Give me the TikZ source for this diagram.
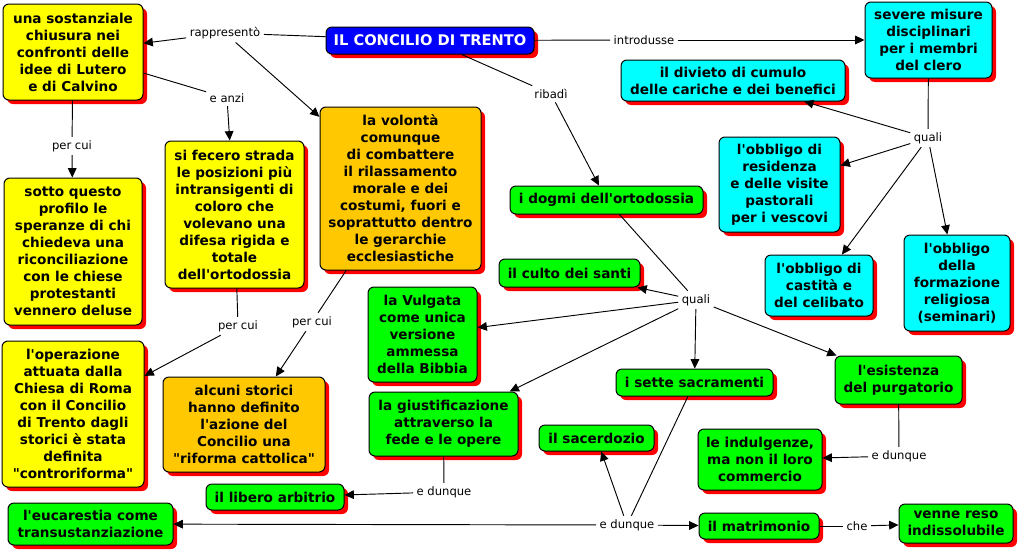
\documentclass[tikz,border=0pt]{standalone}
\usepackage{fontspec}
\setmainfont{DejaVu Sans}[Ligatures=TeXOff]
\usepackage{tikz}
\usetikzlibrary{arrows.meta,shadows}
\usepackage{xcolor}
\definecolor{cgiallo}{HTML}{FFFF00}
\definecolor{carancio}{HTML}{FFC800}
\definecolor{cciano}{HTML}{00FFFF}
\definecolor{cverde}{HTML}{00FF00}
\definecolor{cblu}{HTML}{0000FF}
\definecolor{combra}{HTML}{FF0000}

\begin{document}
\begin{tikzpicture}[
  x=0.75pt, y=-0.75pt,
  every node/.style={font=\fontsize{10.2}{12.75}\selectfont\bfseries},
  concetto/.style={draw=black, line width=0.75pt, rounded corners=4.5pt, align=center,
    inner sep=1pt, general shadow={fill=combra, shadow xshift=3pt, shadow yshift=-3pt}},
  sz/.style 2 args={minimum width=#1*0.75pt, minimum height=#2*0.75pt},
  giallo/.style={concetto, fill=cgiallo},
  arancio/.style={concetto, fill=carancio},
  ciano/.style={concetto, fill=cciano},
  verde/.style={concetto, fill=cverde},
  frase/.style={font=\fontsize{8.7}{10}\selectfont, inner sep=2.5pt},
  linea/.style={line width=0.7pt},
  freccia/.style={linea, -{Triangle[length=7pt, width=6.5pt]}}
]
  \useasboundingbox (0,0) rectangle (1019,553);

  % Concetto principale
  \node[concetto, fill=cblu, text=white, font=\fontsize{11}{13}\selectfont\bfseries, sz={208}{27}]
    (titolo) at (430,40.5) {IL CONCILIO DI TRENTO};

  % Ramo sinistro
  \node[giallo, sz={140}{96}] (chiusura) at (73,52)
    {una sostanziale\\chiusura nei\\confronti delle\\idee di Lutero\\e di Calvino};
  \node[giallo, sz={138}{147}] (sotto) at (73,251.5)
    {sotto questo\\profilo le\\speranze di chi\\chiedeva una\\riconciliazione\\con le chiese\\protestanti\\vennero deluse};
  \node[giallo, sz={139}{147}] (fecero) at (234.5,214.5)
    {si fecero strada\\le posizioni più\\intransigenti di\\coloro che\\volevano una\\difesa rigida e\\totale\\dell'ortodossia};
  \node[arancio, sz={161}{163}] (volonta) at (400.5,188.5)
    {la volontà\\comunque\\di combattere\\il rilassamento\\morale e dei\\costumi, fuori e\\soprattutto dentro\\le gerarchie\\ecclesiastiche};
  \node[giallo, sz={142}{146}] (operazione) at (73,414)
    {l'operazione\\attuata dalla\\Chiesa di Roma\\con il Concilio\\di Trento dagli\\storici è stata\\definita\\"controriforma"};
  \node[arancio, sz={162}{95}] (alcuni) at (244,424.5)
    {alcuni storici\\hanno definito\\l'azione del\\Concilio una\\"riforma cattolica"};

  % Ramo disciplinare
  \node[ciano, sz={127}{76}] (severe) at (928.5,40)
    {severe misure\\disciplinari\\per i membri\\del clero};
  \node[ciano, sz={224}{41}] (divieto) at (733,80.5)
    {il divieto di cumulo\\delle cariche e dei benefici};
  \node[ciano, sz={121}{95}] (residenza) at (779.5,184.5)
    {l'obbligo di\\residenza\\e delle visite\\pastorali\\per i vescovi};
  \node[ciano, sz={108}{61}] (castita) at (819,285.5)
    {l'obbligo di\\castità e\\del celibato};
  \node[ciano, sz={106}{96}] (formazione) at (957,283)
    {l'obbligo\\della\\formazione\\religiosa\\(seminari)};

  % Ramo dei dogmi
  \node[verde, sz={193}{28}] (dogmi) at (606.5,200) {i dogmi dell'ortodossia};
  \node[verde, sz={141}{28}] (culto) at (569.5,273) {il culto dei santi};
  \node[verde, sz={109}{95}] (vulgata) at (422.5,334.5)
    {la Vulgata\\come unica\\versione\\ammessa\\della Bibbia};
  \node[verde, sz={149}{64}] (giustif) at (443.5,424)
    {la giustificazione\\attraverso la\\fede e le opere};
  \node[verde, sz={157}{27}] (sacramenti) at (694.5,382.5) {i sette sacramenti};
  \node[verde, sz={127}{48}] (purgatorio) at (898.5,380) {l'esistenza\\del purgatorio};
  \node[verde, sz={124}{61}] (indulgenze) at (760,459.5)
    {le indulgenze,\\ma non il loro\\commercio};
  \node[verde, sz={115}{26}] (sacerdozio) at (596.5,438) {il sacerdozio};
  \node[verde, sz={138}{26}] (libero) at (275,497) {il libero arbitrio};
  \node[verde, sz={165}{42}] (eucarestia) at (90.5,524)
    {l'eucarestia come\\transustanziazione};
  \node[verde, sz={120}{26}] (matrimonio) at (759,526) {il matrimonio};
  \node[verde, sz={114}{39}] (indissol) at (956,523.5) {venne reso\\indissolubile};

  % Frasi di collegamento
  \node[frase] (rappresento) at (225,33) {rappresentò};
  \node[frase] (eanzi) at (227,98) {e anzi};
  \node[frase] (percuiA) at (72,146) {per cui};
  \node[frase] (percuiB) at (238,326) {per cui};
  \node[frase] (percuiC) at (312,322) {per cui};
  \node[frase] (ribadi) at (551,94) {ribadì};
  \node[frase] (introdusse) at (644,40) {introdusse};
  \node[frase] (qualiA) at (928,138) {quali};
  \node[frase] (qualiB) at (696,300) {quali};
  \node[frase] (dunqueA) at (444,492) {e dunque};
  \node[frase] (dunqueB) at (627,525) {e dunque};
  \node[frase] (dunqueC) at (899,456) {e dunque};
  \node[frase] (che) at (857,526) {che};

  % Collegamenti
  \draw[linea] (titolo) -- (rappresento);
  \draw[freccia] (rappresento) -- (chiusura);
  \draw[freccia] (rappresento) -- (volonta);
  \draw[linea] (chiusura) -- (eanzi);
  \draw[freccia] (eanzi) -- (fecero);
  \draw[linea] (chiusura) -- (percuiA);
  \draw[freccia] (percuiA) -- (sotto);
  \draw[linea] (fecero) -- (percuiB);
  \draw[freccia] (percuiB) -- (operazione);
  \draw[linea] (volonta) -- (percuiC);
  \draw[freccia] (percuiC) -- (alcuni);
  \draw[linea] (titolo) -- (ribadi);
  \draw[freccia] (ribadi) -- (dogmi);
  \draw[linea] (titolo) -- (introdusse);
  \draw[freccia] (introdusse) -- (severe);

  \draw[linea] (severe) -- (qualiA);
  \foreach \t in {divieto,residenza,castita,formazione}
    \draw[freccia] (qualiA) -- (\t);

  \draw[linea] (dogmi) -- (qualiB);
  \foreach \t in {culto,vulgata,giustif,sacramenti,purgatorio}
    \draw[freccia] (qualiB) -- (\t);

  \draw[linea] (giustif) -- (dunqueA);
  \draw[freccia] (dunqueA) -- (libero);
  \draw[linea] (sacramenti) -- (dunqueB);
  \foreach \t in {sacerdozio,eucarestia,matrimonio}
    \draw[freccia] (dunqueB) -- (\t);
  \draw[linea] (purgatorio) -- (dunqueC);
  \draw[freccia] (dunqueC) -- (indulgenze);
  \draw[linea] (matrimonio) -- (che);
  \draw[freccia] (che) -- (indissol);
\end{tikzpicture}
\end{document}
